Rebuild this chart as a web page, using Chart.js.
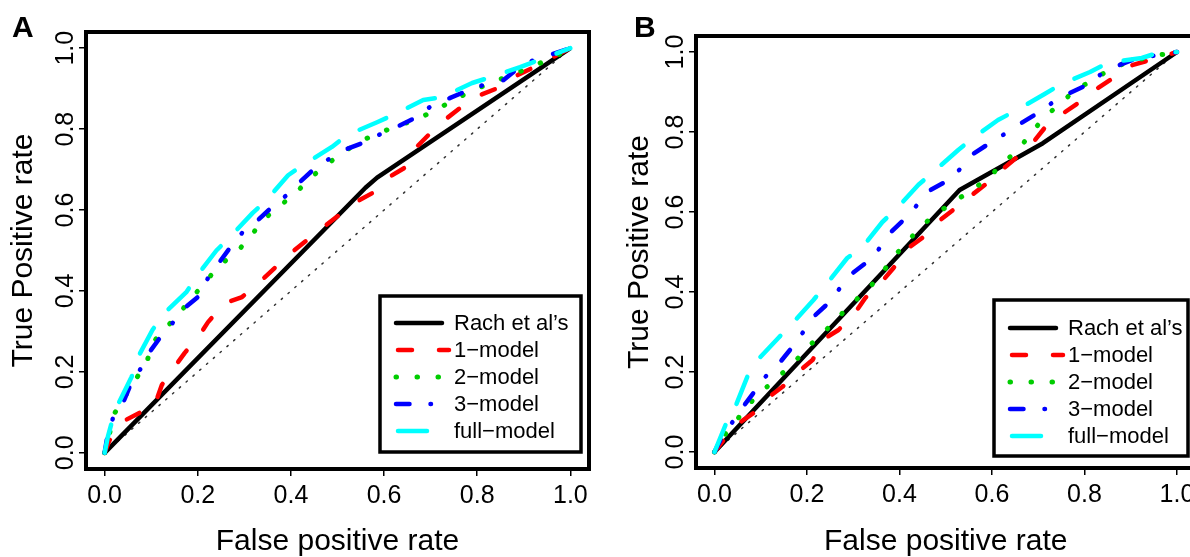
<!DOCTYPE html>
<html>
<head>
<meta charset="utf-8">
<script src="https://cdn.jsdelivr.net/npm/chart.js@4.4.0/dist/chart.umd.min.js"></script>
<style>
  html, body { margin: 0; padding: 0; background: #fff; overflow: hidden; width: 1190px; height: 557px; }
  .panel { position: absolute; top: 0; }
  #wrapA { left: 0; width: 600px; height: 557px; }
  #wrapB { left: 600px; width: 610px; height: 557px; }
</style>
</head>
<body>
<div class="panel" id="wrapA"><canvas id="chartA" width="600" height="557"></canvas></div>
<div class="panel" id="wrapB"><canvas id="chartB" width="610" height="557"></canvas></div>
<script>
// ROC curves, [false positive rate, true positive rate]
const seriesNames = ['Rach et al\u2019s', '1\u2212model', '2\u2212model', '3\u2212model', 'full\u2212model'];
const xTicks = [0, 0.2, 0.4, 0.6, 0.8, 1.0];
const yTicks = [0, 0.2, 0.4, 0.6, 0.8, 1.0];
const chance = [[0, 0], [1, 1]];

// panel A
const rachA = [[0, 0], [0.56, 0.655], [0.585, 0.68], [1, 1]];
const model1A = [[0, 0], [0.01, 0.03], [0.04, 0.078], [0.075, 0.099], [0.105, 0.11], [0.123, 0.168], [0.15, 0.212],
  [0.172, 0.247], [0.204, 0.291], [0.222, 0.323], [0.258, 0.37], [0.295, 0.385], [0.333, 0.422], [0.4, 0.494],
  [0.47, 0.558], [0.54, 0.62], [0.575, 0.642], [0.613, 0.683], [0.645, 0.705], [0.67, 0.756], [0.695, 0.785],
  [0.735, 0.827], [0.763, 0.852], [0.806, 0.884], [0.843, 0.901], [0.886, 0.933], [0.918, 0.951], [0.963, 0.978], [1, 1]];
const model2A = [[0, 0], [0.022, 0.099], [0.06, 0.17], [0.09, 0.222], [0.103, 0.272], [0.161, 0.346], [0.189, 0.385],
  [0.247, 0.464], [0.284, 0.496], [0.312, 0.533], [0.34, 0.575], [0.372, 0.607], [0.409, 0.64], [0.439, 0.677],
  [0.473, 0.709], [0.51, 0.741], [0.546, 0.768], [0.587, 0.79], [0.628, 0.807], [0.671, 0.825], [0.712, 0.847],
  [0.748, 0.872], [0.79, 0.895], [0.832, 0.916], [0.873, 0.933], [0.914, 0.953], [0.96, 0.975], [1, 1]];
const model3A = [[0, 0], [0.007, 0.049], [0.018, 0.086], [0.04, 0.125], [0.06, 0.18], [0.08, 0.212], [0.097, 0.25],
  [0.123, 0.291], [0.146, 0.321], [0.174, 0.36], [0.2, 0.385], [0.222, 0.432], [0.247, 0.472], [0.273, 0.513],
  [0.297, 0.546], [0.329, 0.575], [0.359, 0.607], [0.391, 0.637], [0.419, 0.669], [0.452, 0.704], [0.484, 0.728],
  [0.52, 0.751], [0.559, 0.768], [0.596, 0.79], [0.63, 0.807], [0.671, 0.83], [0.703, 0.859], [0.742, 0.877],
  [0.781, 0.896], [0.813, 0.909], [0.856, 0.921], [0.888, 0.951], [0.92, 0.97], [0.96, 0.985], [1, 1]];
const fullA = [[0, 0], [0.007, 0.04], [0.015, 0.074], [0.028, 0.118], [0.058, 0.188], [0.071, 0.235], [0.103, 0.304],
  [0.129, 0.346], [0.176, 0.398], [0.2, 0.44], [0.24, 0.5], [0.269, 0.533], [0.318, 0.593], [0.348, 0.625],
  [0.394, 0.686], [0.426, 0.711], [0.488, 0.756], [0.52, 0.785], [0.585, 0.817], [0.62, 0.835], [0.684, 0.872],
  [0.725, 0.879], [0.789, 0.914], [0.828, 0.928], [0.892, 0.953], [0.931, 0.97], [1, 1]];

// panel B
const rachB = [[0, 0], [0.53, 0.655], [0.71, 0.772], [1, 1]];
const model1B = [[0, 0], [0.02, 0.03], [0.052, 0.072], [0.084, 0.097], [0.117, 0.137], [0.147, 0.163], [0.186, 0.205],
  [0.212, 0.23], [0.24, 0.285], [0.268, 0.305], [0.305, 0.35], [0.326, 0.385], [0.365, 0.43], [0.387, 0.46],
  [0.419, 0.51], [0.449, 0.535], [0.488, 0.58], [0.516, 0.605], [0.557, 0.643], [0.585, 0.668], [0.628, 0.712],
  [0.654, 0.737], [0.693, 0.78], [0.715, 0.812], [0.758, 0.85], [0.786, 0.872], [0.829, 0.91], [0.862, 0.935],
  [0.905, 0.968], [0.942, 0.98], [1, 1]];
const model2B = [[0, 0], [0.02, 0.04], [0.045, 0.075], [0.073, 0.118], [0.106, 0.155], [0.138, 0.188], [0.171, 0.222],
  [0.201, 0.262], [0.235, 0.297], [0.266, 0.335], [0.298, 0.372], [0.33, 0.405], [0.361, 0.445], [0.387, 0.488],
  [0.417, 0.525], [0.447, 0.565], [0.482, 0.597], [0.516, 0.625], [0.555, 0.653], [0.592, 0.685], [0.624, 0.722],
  [0.657, 0.757], [0.685, 0.797], [0.713, 0.837], [0.747, 0.87], [0.78, 0.905], [0.818, 0.93], [0.855, 0.957],
  [0.894, 0.975], [0.95, 0.99], [1, 1]];
const model3B = [[0, 0], [0.02, 0.047], [0.039, 0.075], [0.063, 0.115], [0.089, 0.155], [0.11, 0.188], [0.14, 0.222],
  [0.168, 0.262], [0.19, 0.297], [0.214, 0.338], [0.246, 0.372], [0.268, 0.405], [0.296, 0.445], [0.33, 0.475],
  [0.354, 0.505], [0.38, 0.548], [0.413, 0.585], [0.434, 0.612], [0.464, 0.653], [0.503, 0.678], [0.529, 0.705],
  [0.559, 0.745], [0.596, 0.773], [0.618, 0.788], [0.663, 0.822], [0.7, 0.848], [0.73, 0.873], [0.767, 0.897],
  [0.806, 0.918], [0.834, 0.943], [0.87, 0.965], [0.914, 0.985], [0.946, 0.99], [1, 1]];
const fullB = [[0, 0], [0.024, 0.068], [0.045, 0.113], [0.071, 0.188], [0.093, 0.23], [0.138, 0.285], [0.171, 0.325],
  [0.214, 0.38], [0.244, 0.422], [0.287, 0.485], [0.32, 0.512], [0.363, 0.575], [0.395, 0.61], [0.441, 0.668],
  [0.473, 0.70], [0.527, 0.755], [0.559, 0.785], [0.613, 0.83], [0.654, 0.855], [0.711, 0.893], [0.747, 0.918],
  [0.812, 0.95], [0.851, 0.973], [0.924, 0.985], [0.959, 0.998], [1, 1]];

const FONT = '"Liberation Sans", Arial, sans-serif';
const colors = ['#000000', '#ff0000', '#00cd00', '#0000ff', '#00ffff'];
const dashes = [[], [14, 27], [0.5, 20.5], [13.5, 21, 0.5, 22], [29, 24]];
// legend sample segments, offsets from the legend's left edge
const legendSamples = [[16, 62], [18, 69], [16, 60], [16, 51], [18, 47]];

// box round the plot, the panel letter and the legend
const panelDecor = {
  id: 'panelDecor',
  afterDraw(chart, args, opts) {
    const ctx = chart.ctx;
    const a = chart.chartArea;
    ctx.save();
    ctx.setLineDash([]);
    ctx.strokeStyle = '#000';
    ctx.lineWidth = 4;
    ctx.strokeRect(a.left, a.top, a.right - a.left, a.bottom - a.top);

    ctx.fillStyle = '#000';
    ctx.font = 'bold 30px ' + FONT;
    ctx.textAlign = 'left';
    ctx.textBaseline = 'alphabetic';
    ctx.fillText(opts.letter, opts.letterX, 37);

    const L = opts.legend;
    ctx.fillStyle = '#fff';
    ctx.fillRect(L.left, L.top, L.width, L.height);
    ctx.lineWidth = 3.5;
    ctx.strokeRect(L.left, L.top, L.width, L.height);
    ctx.font = '22px ' + FONT;
    ctx.textBaseline = 'middle';
    seriesNames.forEach((name, i) => {
      const y = L.top + L.firstRow + i * L.rowGap;
      ctx.strokeStyle = colors[i];
      ctx.lineWidth = i === 2 ? 5 : 4.5;
      ctx.lineCap = 'round';
      ctx.setLineDash(dashes[i]);
      ctx.beginPath();
      ctx.moveTo(L.left + legendSamples[i][0], y);
      ctx.lineTo(L.left + legendSamples[i][1], y);
      ctx.stroke();
      ctx.setLineDash([]);
      ctx.fillStyle = '#000';
      ctx.fillText(name, L.left + 74, y + 1);
    });
    ctx.restore();
  }
};

function toXY(arr) {
  return arr.map(p => ({ x: p[0], y: p[1] }));
}

function makeChart(id, curves, deco) {
  const datasets = curves.map((c, i) => ({
    label: seriesNames[i],
    data: toXY(c),
    showLine: true,
    pointRadius: 0,
    borderColor: colors[i],
    borderWidth: i === 2 ? 5 : 4.5,
    borderDash: dashes[i],
    borderCapStyle: i === 0 ? 'butt' : 'round',
    borderJoinStyle: 'round',
    order: 10 - i
  }));
  datasets.push({
    label: 'chance',
    data: toXY(chance),
    showLine: true,
    pointRadius: 0,
    borderColor: '#333',
    borderWidth: 1.5,
    borderDash: [1.5, 7.5],
    borderCapStyle: 'round',
    order: 20
  });

  return new Chart(document.getElementById(id), {
    type: 'scatter',
    data: { datasets: datasets },
    options: {
      responsive: false,
      animation: false,
      layout: { padding: deco.padding },
      plugins: {
        legend: { display: false },
        tooltip: { enabled: false },
        panelDecor: deco
      },
      scales: {
        x: {
          type: 'linear',
          min: -0.04,
          max: 1.04,
          afterBuildTicks: s => { s.ticks = xTicks.map(v => ({ value: v })); },
          afterFit: s => { s.height = deco.xAxisHeight; },
          border: { display: false },
          grid: { drawOnChartArea: false, drawTicks: true, tickLength: 7, color: '#000', lineWidth: 1.5 },
          ticks: {
            color: '#000', font: { family: FONT, size: 25 }, padding: 5, maxRotation: 0, autoSkip: false,
            callback: v => v.toFixed(1)
          },
          title: {
            display: true, text: 'False positive rate', color: '#000',
            font: { family: FONT, size: 30, lineHeight: 1 }, padding: { top: 0, bottom: 0 }
          }
        },
        y: {
          type: 'linear',
          min: -0.04,
          max: 1.04,
          afterBuildTicks: s => { s.ticks = yTicks.map(v => ({ value: v })); },
          afterFit: s => { s.width = deco.yAxisWidth; },
          border: { display: false },
          grid: { drawOnChartArea: false, drawTicks: true, tickLength: 7, color: '#000', lineWidth: 1.5 },
          ticks: {
            color: '#000', font: { family: FONT, size: 25 }, padding: -4, minRotation: 90, maxRotation: 90,
            crossAlign: 'center', autoSkip: false,
            callback: v => v.toFixed(1)
          },
          title: {
            display: true, text: 'True Positive rate', color: '#000',
            font: { family: FONT, size: 30, lineHeight: 1 }, padding: { top: deco.yTitlePad, bottom: 0 }
          }
        }
      }
    },
    plugins: [panelDecor]
  });
}

makeChart('chartA', [rachA, model1A, model2A, model3A, fullA], {
  letter: 'A', letterX: 12,
  padding: { top: 32, right: 11, left: 0, bottom: 0 },
  xAxisHeight: 88, yAxisWidth: 86, yTitlePad: 9,
  legend: { left: 380, top: 296, width: 201, height: 156, firstRow: 27, rowGap: 27 }
});

makeChart('chartB', [rachB, model1B, model2B, model3B, fullB], {
  letter: 'B', letterX: 34,
  padding: { top: 36, right: 14.5, left: 0, bottom: 0 },
  xAxisHeight: 89, yAxisWidth: 96, yTitlePad: 25,
  legend: { left: 394, top: 300, width: 194, height: 156, firstRow: 28, rowGap: 27 }
});
</script>
</body>
</html>
